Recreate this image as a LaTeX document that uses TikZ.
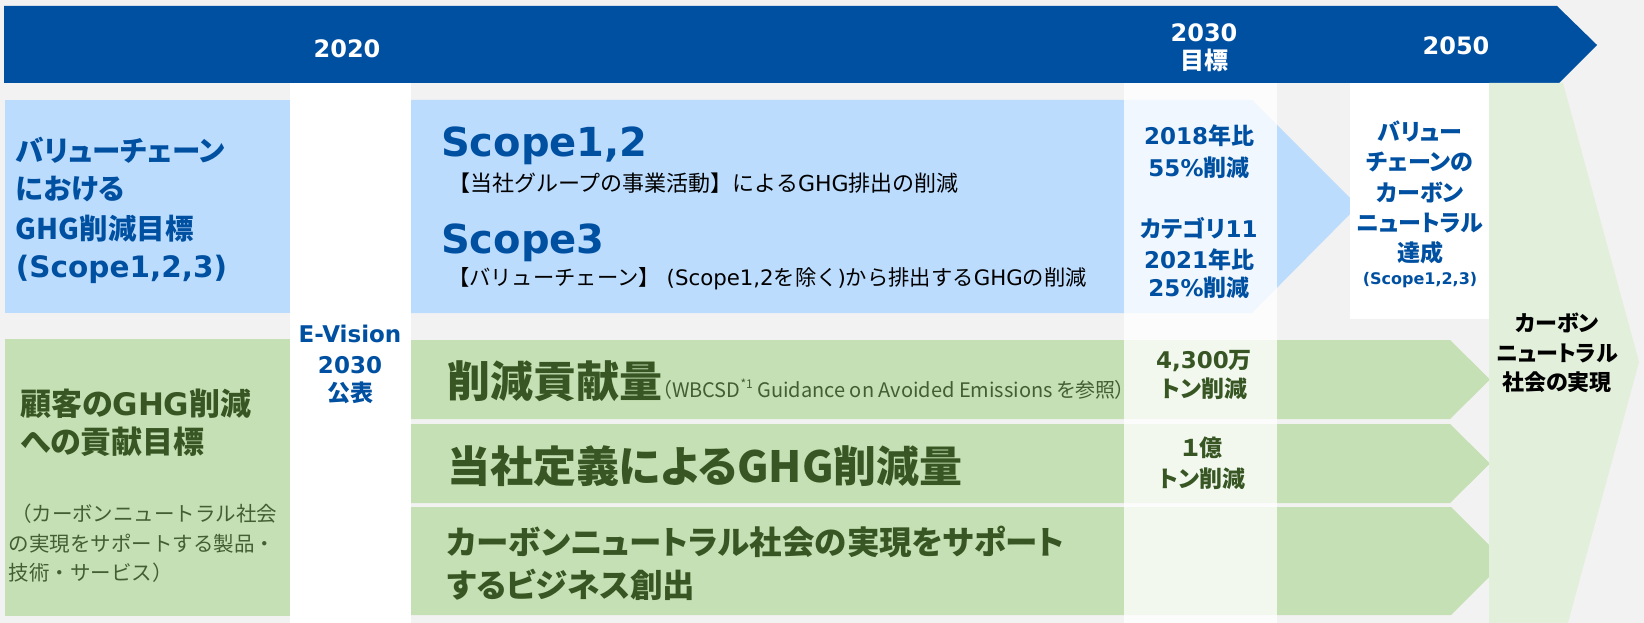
\documentclass[tikz,border=0pt]{standalone}
\usepackage{fontspec}
\setmainfont{Noto Sans CJK JP}[RawFeature={+palt}]
\newfontfamily\jpfull{Noto Sans CJK JP}
\newfontfamily\latf{DejaVu Sans}
\newcommand\latx[1]{{\latf #1}}
\definecolor{bgc}{HTML}{F2F2F2}
\definecolor{bannerc}{HTML}{0050A2}
\definecolor{lblue}{HTML}{BCDCFE}
\definecolor{lgreen}{HTML}{C5E0B4}
\definecolor{tgreen}{HTML}{E2EFDA}
\definecolor{dgreen}{HTML}{375623}
\definecolor{sgreen}{HTML}{435E33}
\definecolor{navy}{HTML}{0050A2}
\tikzset{
  txt/.style={inner sep=0pt, outer sep=0pt},
  fs/.style={font=\fontsize{#1}{#1}\selectfont},
  fsb/.style={font=\bfseries\fontsize{#1}{#1}\selectfont},
  bannertxt/.style={txt, text=white, fsb=24, anchor=base},
  bluehead/.style={txt, text=navy, fsb=28.5, anchor=base west},
  greenhead/.style={txt, text=dgreen, fsb=31, anchor=base west},
  greensmall/.style={txt, text=sgreen, font=\jpfull\fontsize{20.5}{20.5}\selectfont, anchor=base west},
  scopetxt/.style={txt, text=navy, font=\latf\bfseries\fontsize{40}{40}\selectfont, anchor=base west},
  scopesub/.style={txt, text=black, font=\jpfull\fontsize{#1}{#1}\selectfont, anchor=base west},
  evis/.style={txt, text=navy, fsb=23, anchor=base},
  targetblue/.style={txt, text=navy, fsb=23, anchor=base},
  targetgreen/.style={txt, text=dgreen, fsb=23, anchor=base},
  goaltxt/.style={txt, text=navy, fsb=23, anchor=base},
  rowbig/.style={txt, text=dgreen, fsb=43, anchor=base west},
  rownote/.style={txt, text=sgreen, fs=20, anchor=base west},
  rowmid/.style={txt, text=dgreen, fsb=32.5, anchor=base west},
  cntxt/.style={txt, text=black, fsb=22, anchor=base},
}
\begin{document}
\begin{tikzpicture}[x=1pt,y=-1pt]
\useasboundingbox (0,0) rectangle (1644,623);
\fill[bgc] (0,0) rectangle (1644,623);
% banner
\fill[bannerc] (4,6) -- (1557,6) -- (1597,45) -- (1559,83) -- (4,83) -- cycle;
% left boxes
\fill[lblue] (5,100) rectangle (290,313);
\fill[lgreen] (5,339) rectangle (290,616);
% E-Vision column
\fill[white] (290,83) rectangle (411,623);
% main blue chevron
\fill[lblue] (411,100) -- (1252,100) -- (1358,206) -- (1252,313) -- (411,313) -- cycle;
% green rows
\fill[lgreen] (411,340) -- (1450,340) -- (1490,379.5) -- (1450,419) -- (411,419) -- cycle;
\fill[lgreen] (411,424) -- (1450,424) -- (1490,463.5) -- (1450,503) -- (411,503) -- cycle;
\fill[lgreen] (411,507) -- (1451,507) -- (1505,561) -- (1451,615) -- (411,615) -- cycle;
% 2030 overlay column
\fill[white,opacity=0.78] (1124,83) rectangle (1277,623);
% 2050 white box
\fill[white] (1350,83) rectangle (1489,319);
% big green arrow
\fill[tgreen] (1489,83) -- (1563,83) -- (1639,362) -- (1563,641) -- (1489,641) -- cycle;

% banner texts
\node[bannertxt] (y2020) at (347,58) {\latx{2020}};
\node[bannertxt] (y2030) at (1204,42) {\latx{2030}};
\node[bannertxt] (y2030b) at (1204,70) {目標};
\node[bannertxt] (y2050) at (1456,55) {\latx{2050}};

% left blue heading
\node[bluehead] (lb1) at (16,161) {バリューチェーン};
\node[bluehead] (lb2) at (16,199) {における};
\node[bluehead] (lb3) at (16,239) {GHG削減目標};
\node[bluehead, font=\latf\bfseries\fontsize{29.5}{29.5}\selectfont] (lb4) at (16,277) {(Scope1,2,3)};

% left green heading
\node[greenhead] (lg1) at (20,415) {顧客の\latx{GHG}削減};
\node[greenhead] (lg2) at (20,453) {への貢献目標};
\node[greensmall] (lg3) at (11,521) {（カーボンニュートラル社会};
\node[greensmall] (lg4) at (9,551) {の実現をサポートする製品・};
\node[greensmall] (lg5) at (9,580) {技術・サービス）};

% E-Vision
\node[evis] (ev1) at (350,342) {\latx{E-Vision}};
\node[evis] (ev2) at (350,373) {\latx{2030}};
\node[evis] (ev3) at (350,401) {公表};

% scope texts
\node[scopetxt] (sc1) at (441,157) {Scope1,2};
\node[scopesub=22] (sc1s) at (448,191) {【当社グループの事業活動】による\latx{GHG}排出の削減};
\node[scopetxt] (sc3) at (441,253) {Scope3};
\node[scopesub=21.3] (sc3s) at (448,285) {【バリューチェーン】\latx{ (Scope1,2}を除く\latx{)}から排出する\latx{GHG}の削減};

% 2030 targets (blue)
\node[targetblue] (tb1) at (1199,145) {\latx{2018}年比};
\node[targetblue] (tb2) at (1199,176) {\latx{55\%}削減};
\node[targetblue] (tb3) at (1199,237) {カテゴリ\latx{11}};
\node[targetblue] (tb4) at (1199,268) {\latx{2021}年比};
\node[targetblue] (tb5) at (1199,296) {\latx{25\%}削減};

% 2050 goal
\node[goaltxt] (g1) at (1420,141) {バリュー};
\node[goaltxt] (g2) at (1420,171) {チェーンの};
\node[goaltxt] (g3) at (1420,201) {カーボン};
\node[goaltxt] (g4) at (1420,231) {ニュートラル};
\node[goaltxt] (g5) at (1420,261) {達成};
\node[goaltxt, font=\latf\bfseries\fontsize{16}{16}\selectfont] (g6) at (1420,284) {(Scope1,2,3)};

% green rows texts
\node[rowbig] (r1) at (447,397) {削減貢献量};
\node[rownote] (r1s) at (r1.base east) {（WBCSD\raisebox{0.45em}{\fontsize{12}{12}\selectfont *1} Guidance on Avoided Emissions を参照）};
\node[rowbig] (r2) at (447,482) {当社定義によるGHG削減量};
\node[rowmid] (r3a) at (447,554) {カーボンニュートラル社会の実現をサポート};
\node[rowmid] (r3b) at (447,597) {するビジネス創出};

% 2030 targets (green)
\node[targetgreen] (tg1) at (1204,368) {\latx{4,300}万};
\node[targetgreen] (tg2) at (1204,397) {トン削減};
\node[targetgreen] (tg3) at (1202,456) {１億};
\node[targetgreen] (tg4) at (1202,487) {トン削減};

% carbon neutral society
\node[cntxt] (cn1) at (1557,331) {カーボン};
\node[cntxt] (cn2) at (1557,361) {ニュートラル};
\node[cntxt] (cn3) at (1557,390) {社会の実現};
\end{tikzpicture}
\end{document}
